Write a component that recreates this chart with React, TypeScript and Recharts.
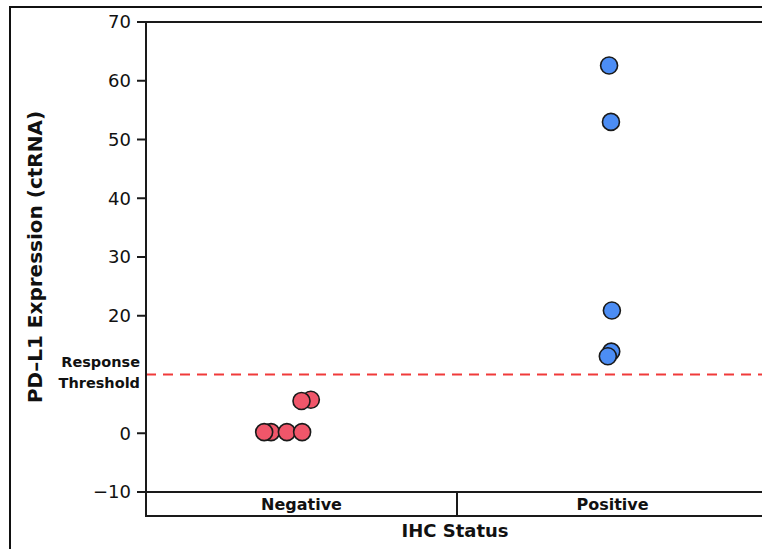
import { ScatterChart, Scatter, XAxis, YAxis, ReferenceLine } from 'recharts';

const categories = ['Negative', 'Positive'];
const yTicks = [-10, 0, 20, 30, 40, 50, 60, 70];
const threshold = 10;

// values, jitter is the horizontal offset inside each category
const negativeValues = [0.2, 0.2, 0.2, 0.2, 5.7, 5.5];
const negativeJitter = [-0.098, -0.12, -0.047, 0.002, 0.03, 0.0];
const positiveValues = [62.6, 53.0, 20.9, 13.9, 13.1];
const positiveJitter = [-0.011, -0.005, -0.002, -0.004, -0.015];

const negativeData = negativeValues.map((v, i) => ({ x: 0 + negativeJitter[i], y: v }));
const positiveData = positiveValues.map((v, i) => ({ x: 1 + positiveJitter[i], y: v }));

const FONT = '"DejaVu Sans", Verdana, sans-serif';

const dot = (fill: string) => (props: any) => (
  <circle cx={props.cx} cy={props.cy} r={8.5} fill={fill} stroke="#1a1a1a" strokeWidth={1.6} />
);

const CategoryTick = (props: any) => {
  const { x, y, payload } = props;
  return (
    <text x={x} y={y + 18} textAnchor="middle" fontFamily={FONT} fontWeight="bold" fontSize={16} fill="#111">
      {categories[payload.value]}
    </text>
  );
};

const ThresholdLabel = (props: any) => {
  const { viewBox } = props;
  const x = viewBox.x - 6;
  return (
    <text x={x} y={viewBox.y} textAnchor="end" fontFamily={FONT} fontWeight="bold" fontSize={14.5} fill="#111">
      <tspan x={x} dy={-7.5}>Response</tspan>
      <tspan x={x} dy={21}>Threshold</tspan>
    </text>
  );
};

const App = () => {
  return (
    <div style={{ position: 'absolute', left: 0, top: 0, width: 762, height: 549, overflow: 'hidden', background: '#fff' }}>
      <ScatterChart width={770} height={549} margin={{ top: 22, right: 2, bottom: 33, left: 0 }}>
        <XAxis
          type="number"
          dataKey="x"
          domain={[-0.5, 1.5]}
          ticks={[0, 1]}
          tickLine={false}
          tickSize={0}
          tickMargin={0}
          height={24}
          axisLine={{ stroke: '#1a1a1a', strokeWidth: 2 }}
          tick={<CategoryTick />}
        />
        <YAxis
          type="number"
          dataKey="y"
          domain={[-10, 70]}
          ticks={yTicks}
          interval={0}
          width={146}
          tickSize={9}
          tickMargin={6}
          tickFormatter={(v: number) => String(v).replace('-', '\u2212')}
          axisLine={{ stroke: '#1a1a1a', strokeWidth: 2 }}
          tickLine={{ stroke: '#1a1a1a', strokeWidth: 2 }}
          tick={{ fontSize: 18, fill: '#111', fontFamily: FONT }}
        />
        <ReferenceLine y={70} stroke="#1a1a1a" strokeWidth={2} />
        <ReferenceLine
          y={threshold}
          stroke="#f03a3a"
          strokeWidth={2}
          strokeDasharray="10 7"
          label={<ThresholdLabel />}
        />
        <Scatter data={negativeData} shape={dot('#f0566a')} isAnimationActive={false} />
        <Scatter data={positiveData} shape={dot('#4c8df4')} isAnimationActive={false} />
      </ScatterChart>
      <svg width={762} height={549} style={{ position: 'absolute', left: 0, top: 0, pointerEvents: 'none' }}>
        <rect x={10} y={7} width={800} height={600} fill="none" stroke="#111" strokeWidth={2} />
        <line x1={146} y1={491} x2={146} y2={517} stroke="#1a1a1a" strokeWidth={2} />
        <line x1={145} y1={516} x2={770} y2={516} stroke="#1a1a1a" strokeWidth={2} />
        <line x1={457} y1={492} x2={457} y2={516} stroke="#1a1a1a" strokeWidth={2} />
        <text
          transform="translate(42, 257) rotate(-90)"
          textAnchor="middle"
          fontFamily={FONT}
          fontWeight="bold"
          fontSize={20}
          fill="#111"
        >
          PD–L1 Expression (ctRNA)
        </text>
        <text x={455} y={537} textAnchor="middle" fontFamily={FONT} fontWeight="bold" fontSize={18} fill="#111">
          IHC Status
        </text>
      </svg>
    </div>
  );
};

export default App;
